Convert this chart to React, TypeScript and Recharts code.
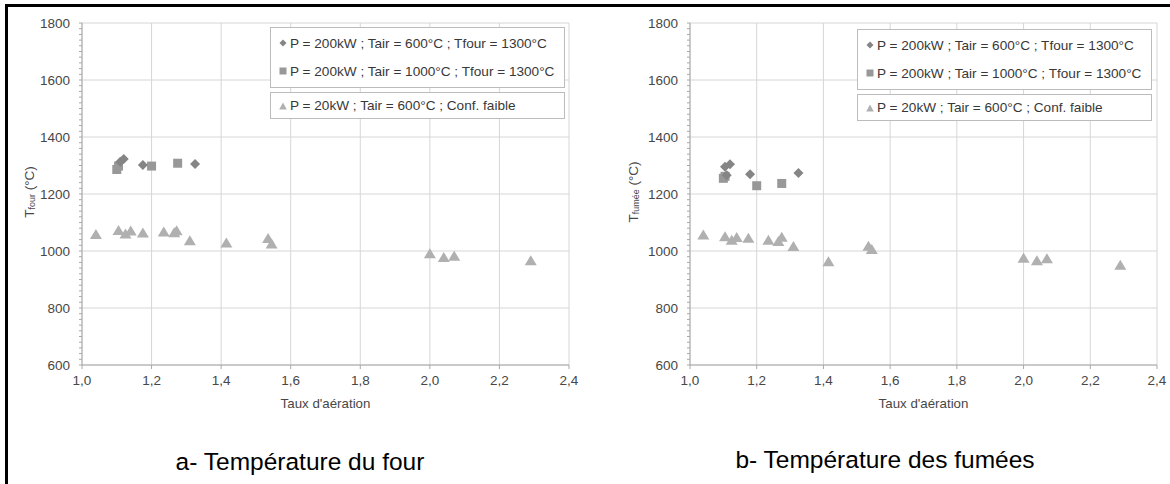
import React from "react";
import { ScatterChart, Scatter, XAxis, YAxis, CartesianGrid, Label } from "recharts";

const FONT = '"Liberation Sans", Arial, sans-serif';

const COLORS = {
  diamond: "#858585",
  square: "#989898",
  triangle: "#b0b0b0",
  grid: "#d6d6d6",
  axis: "#a8a8a8",
  tick: "#474747",
  legendBorder: "#bcbcbc",
  legendText: "#383838",
};

// ── data (Taux d'aération, température °C) ──

const X_TICKS = [1.0, 1.2, 1.4, 1.6, 1.8, 2.0, 2.2, 2.4];
const Y_TICKS = [600, 800, 1000, 1200, 1400, 1600, 1800];
const Y_MINOR_TICKS = Array.from({ length: 61 }, (_, i) => 600 + i * 20);

const LEGEND_LABELS = [
  "P = 200kW ; Tair = 600°C ; Tfour = 1300°C",
  "P = 200kW ; Tair = 1000°C ; Tfour = 1300°C",
  "P = 20kW ; Tair = 600°C ; Conf. faible",
];

// a- Température du four
const fourDiamond = [
  { x: 1.11, y: 1313 },
  { x: 1.12, y: 1323 },
  { x: 1.175, y: 1302 },
  { x: 1.325, y: 1305 },
];
const fourSquare = [
  { x: 1.1, y: 1286 },
  { x: 1.105, y: 1298 },
  { x: 1.2, y: 1298 },
  { x: 1.275, y: 1308 },
];
const fourTriangle = [
  { x: 1.04, y: 1058 },
  { x: 1.105, y: 1072 },
  { x: 1.125, y: 1060 },
  { x: 1.14, y: 1070 },
  { x: 1.175, y: 1063 },
  { x: 1.235, y: 1067 },
  { x: 1.265, y: 1064 },
  { x: 1.272, y: 1071 },
  { x: 1.31, y: 1036 },
  { x: 1.415, y: 1028 },
  { x: 1.535, y: 1044 },
  { x: 1.545, y: 1025 },
  { x: 2.0, y: 990 },
  { x: 2.04, y: 977 },
  { x: 2.07, y: 982 },
  { x: 2.29, y: 966 },
];

// b- Température des fumées
const fumeeDiamond = [
  { x: 1.105, y: 1296 },
  { x: 1.11, y: 1266 },
  { x: 1.12, y: 1304 },
  { x: 1.18, y: 1269 },
  { x: 1.325, y: 1274 },
];
const fumeeSquare = [
  { x: 1.1, y: 1255 },
  { x: 1.105, y: 1262 },
  { x: 1.2, y: 1229 },
  { x: 1.275, y: 1237 },
];
const fumeeTriangle = [
  { x: 1.04, y: 1056 },
  { x: 1.105, y: 1050 },
  { x: 1.125, y: 1038 },
  { x: 1.14, y: 1047 },
  { x: 1.175, y: 1045 },
  { x: 1.235, y: 1038 },
  { x: 1.265, y: 1033 },
  { x: 1.275, y: 1048 },
  { x: 1.31, y: 1016 },
  { x: 1.415, y: 962 },
  { x: 1.535, y: 1017 },
  { x: 1.545, y: 1005 },
  { x: 2.0, y: 975 },
  { x: 2.04, y: 966 },
  { x: 2.07, y: 973 },
  { x: 2.29, y: 950 },
];

// ── markers ──

function DiamondShape({ cx, cy }: { cx?: number; cy?: number }) {
  if (cx == null || cy == null) return null;
  const r = 5;
  return <polygon points={`${cx},${cy - r} ${cx + r},${cy} ${cx},${cy + r} ${cx - r},${cy}`} fill={COLORS.diamond} />;
}

function SquareShape({ cx, cy }: { cx?: number; cy?: number }) {
  if (cx == null || cy == null) return null;
  const s = 9;
  return <rect x={cx - s / 2} y={cy - s / 2} width={s} height={s} fill={COLORS.square} />;
}

function TriangleShape({ cx, cy }: { cx?: number; cy?: number }) {
  if (cx == null || cy == null) return null;
  return <polygon points={`${cx},${cy - 5.5} ${cx + 6},${cy + 4.5} ${cx - 6},${cy + 4.5}`} fill={COLORS.triangle} />;
}

function LegendMark({ kind }: { kind: "diamond" | "square" | "triangle" }) {
  return (
    <svg width={8} height={8} style={{ marginRight: 3, flex: "none" }}>
      {kind === "diamond" && <polygon points="4,0.5 7.5,4 4,7.5 0.5,4" fill={COLORS.diamond} />}
      {kind === "square" && <rect x={0.5} y={0.5} width={7} height={7} fill={COLORS.square} />}
      {kind === "triangle" && <polygon points="4,0.5 7.8,7.5 0.2,7.5" fill={COLORS.triangle} />}
    </svg>
  );
}

function LegendBoxes({ left, top }: { left: number; top: number }) {
  const box: React.CSSProperties = {
    position: "absolute",
    left,
    width: 295,
    background: "#fff",
    border: `1px solid ${COLORS.legendBorder}`,
    boxSizing: "border-box",
    fontFamily: FONT,
    fontSize: 13.6,
    color: COLORS.legendText,
  };
  const row: React.CSSProperties = { display: "flex", alignItems: "center", height: 28, paddingLeft: 8, whiteSpace: "nowrap" };
  return (
    <>
      <div style={{ ...box, top, height: 61, paddingTop: 1 }}>
        <div style={row}>
          <LegendMark kind="diamond" />
          {LEGEND_LABELS[0]}
        </div>
        <div style={row}>
          <LegendMark kind="square" />
          {LEGEND_LABELS[1]}
        </div>
      </div>
      <div style={{ ...box, top: top + 65, height: 27 }}>
        <div style={{ ...row, height: 25 }}>
          <LegendMark kind="triangle" />
          {LEGEND_LABELS[2]}
        </div>
      </div>
    </>
  );
}

const fmtX = (v: number) => v.toFixed(1).replace(".", ",");
const fmtY = (v: number) => (v % 200 === 0 ? String(v) : "");

function YTitle({ x, sub }: { x: number; sub: string }) {
  return (
    <text x={x} y={192} transform={`rotate(-90, ${x}, 192)`} textAnchor="middle" dominantBaseline="central" fontFamily={FONT} fontSize={13.5} fill={COLORS.tick}>
      T
      <tspan fontSize={9} dy={3}>
        {sub}
      </tspan>
      <tspan dy={-3}> (°C)</tspan>
    </text>
  );
}

function TempChart({
  width,
  yAxisWidth,
  right,
  diamonds,
  squares,
  triangles,
  titleX,
  sub,
}: {
  width: number;
  yAxisWidth: number;
  right: number;
  diamonds: { x: number; y: number }[];
  squares: { x: number; y: number }[];
  triangles: { x: number; y: number }[];
  titleX: number;
  sub: string;
}) {
  return (
    <ScatterChart width={width} height={420} margin={{ top: 23, right, bottom: 25, left: 0 }}>
      <CartesianGrid stroke={COLORS.grid} horizontalValues={Y_TICKS} verticalValues={X_TICKS} />
      <XAxis
        type="number"
        dataKey="x"
        domain={[1, 2.4]}
        ticks={X_TICKS}
        interval={0}
        tickFormatter={fmtX}
        height={30}
        tickSize={4}
        tickMargin={6}
        stroke={COLORS.axis}
        tick={{ fill: COLORS.tick, fontSize: 13.5, fontFamily: FONT }}
        allowDataOverflow
      >
        <Label value="Taux d'aération" position="bottom" offset={4} fill={COLORS.tick} fontSize={13.3} fontFamily={FONT} />
      </XAxis>
      <YAxis
        type="number"
        dataKey="y"
        domain={[600, 1800]}
        ticks={Y_MINOR_TICKS}
        interval={0}
        tickFormatter={fmtY}
        width={yAxisWidth}
        tickSize={3}
        tickMargin={9}
        stroke={COLORS.axis}
        tick={{ fill: COLORS.tick, fontSize: 13.5, fontFamily: FONT }}
        allowDataOverflow
      >
        <Label content={() => <YTitle x={titleX} sub={sub} />} />
      </YAxis>
      <Scatter data={triangles} shape={<TriangleShape />} isAnimationActive={false} />
      <Scatter data={squares} shape={<SquareShape />} isAnimationActive={false} />
      <Scatter data={diamonds} shape={<DiamondShape />} isAnimationActive={false} />
    </ScatterChart>
  );
}

export default function App() {
  return (
    <div style={{ position: "fixed", left: 0, top: 0, width: 1170, height: 484, background: "#fff", overflow: "hidden" }}>
      <div style={{ position: "absolute", left: 5, top: 4, width: 3, height: 480, background: "#000" }} />
      <div style={{ position: "absolute", left: 5, top: 4, width: 1165, height: 3, background: "#000" }} />

      <div style={{ position: "absolute", left: 0, top: 0 }}>
        <TempChart width={580} yAxisWidth={82} right={11} diamonds={fourDiamond} squares={fourSquare} triangles={fourTriangle} titleX={29} sub="four" />
      </div>
      <div style={{ position: "absolute", left: 600, top: 0 }}>
        <TempChart width={570} yAxisWidth={90} right={13} diamonds={fumeeDiamond} squares={fumeeSquare} triangles={fumeeTriangle} titleX={33} sub="fumée" />
      </div>

      <LegendBoxes left={270} top={27} />
      <LegendBoxes left={857} top={29} />

      <div style={{ position: "absolute", left: 100, width: 400, top: 448, height: 28, lineHeight: "28px", textAlign: "center", fontFamily: FONT, fontSize: 24.5, color: "#000" }}>
        a- Température du four
      </div>
      <div style={{ position: "absolute", left: 685, width: 400, top: 446, height: 28, lineHeight: "28px", textAlign: "center", fontFamily: FONT, fontSize: 24.5, color: "#000" }}>
        b- Température des fumées
      </div>
    </div>
  );
}
